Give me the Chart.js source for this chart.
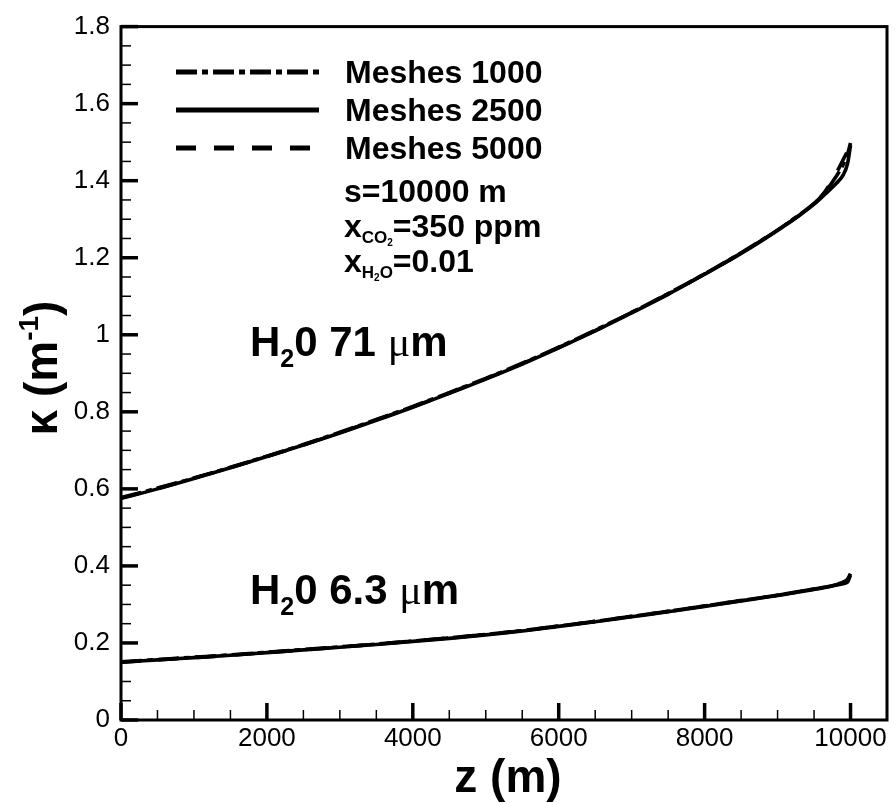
<!DOCTYPE html>
<html>
<head>
<meta charset="utf-8">
<script src="https://cdn.jsdelivr.net/npm/chart.js@4.4.1/dist/chart.umd.min.js"></script>
<style>
  body { margin: 0; background: #fff; }
  #wrap { width: 896px; height: 803px; position: relative; }
</style>
</head>
<body>
<div id="wrap"><canvas id="chart"></canvas></div>
<script>
/* ================= Data ================= */
const zValues = [0, 500, 1000, 1500, 2000, 2500, 3000, 3500, 4000, 4500, 5000, 5500, 6000, 6500,
  7000, 7500, 8000, 8500, 9000, 9250, 9500, 9650, 9800, 9900, 9960, 10000];

// H2O 71 um band
const kappa71Mesh1000 = [0.577, 0.602, 0.628, 0.656, 0.685, 0.715, 0.747, 0.780, 0.814, 0.850, 0.887, 0.926, 0.968, 1.012,
  1.058, 1.107, 1.158, 1.213, 1.272, 1.305, 1.341, 1.370, 1.410, 1.442, 1.470, 1.498];
const kappa71Mesh2500 = [0.575, 0.600, 0.627, 0.655, 0.684, 0.714, 0.745, 0.778, 0.812, 0.848, 0.885, 0.924, 0.966, 1.010,
  1.057, 1.105, 1.157, 1.211, 1.271, 1.303, 1.339, 1.365, 1.392, 1.415, 1.445, 1.492];
const kappa71Mesh5000 = [0.576, 0.601, 0.628, 0.655, 0.684, 0.714, 0.746, 0.779, 0.813, 0.849, 0.886, 0.925, 0.967, 1.011,
  1.058, 1.106, 1.158, 1.212, 1.272, 1.304, 1.340, 1.372, 1.418, 1.455, 1.478, 1.496];

// H2O 6.3 um band
const kappa63Mesh1000 = [0.151, 0.157, 0.163, 0.169, 0.176, 0.183, 0.190, 0.197, 0.205, 0.213, 0.222, 0.232, 0.244, 0.256,
  0.269, 0.282, 0.296, 0.310, 0.324, 0.332, 0.340, 0.345, 0.351, 0.357, 0.364, 0.379];
const kappa63Mesh2500 = [0.150, 0.156, 0.162, 0.168, 0.175, 0.182, 0.189, 0.196, 0.204, 0.212, 0.221, 0.231, 0.243, 0.255,
  0.268, 0.281, 0.295, 0.309, 0.323, 0.331, 0.339, 0.344, 0.350, 0.354, 0.358, 0.376];
const kappa63Mesh5000 = [0.150, 0.156, 0.162, 0.168, 0.175, 0.182, 0.189, 0.197, 0.205, 0.213, 0.222, 0.232, 0.244, 0.256,
  0.269, 0.282, 0.296, 0.310, 0.324, 0.332, 0.340, 0.345, 0.352, 0.358, 0.366, 0.380];

const meshLabels = ['Meshes 1000', 'Meshes 2500', 'Meshes 5000'];
const zTicks = [0, 2000, 4000, 6000, 8000, 10000];
const kappaTicks = [0, 0.2, 0.4, 0.6, 0.8, 1, 1.2, 1.4, 1.6, 1.8];

/* ================= Styles ================= */
const meshDash = [[21, 5, 6, 5], [], [20, 18]];
const FONT = '"Liberation Sans", Arial, sans-serif';

function pts(ys){ return zValues.map((z, i) => ({x: z, y: ys[i]})); }

function line(label, ys, mesh){
  return {
    label: label,
    data: pts(ys),
    borderColor: '#000',
    borderWidth: 3.6,
    borderDash: meshDash[mesh],
    pointRadius: 0,
    cubicInterpolationMode: 'monotone',
    fill: false
  };
}

/* ================= Helpers ================= */
// draw a row of text runs: [text, font, dy]
function runs(ctx, x, y, parts){
  parts.forEach(p => {
    ctx.font = p[1];
    ctx.fillText(p[0], x, y + (p[2] || 0));
    x += ctx.measureText(p[0]).width;
  });
  return x;
}

/* ================= Ticks + frame ================= */
const frameTicks = {
  id: 'frameTicks',
  afterDraw(chart){
    const {ctx, chartArea: a, scales: {x, y}} = chart;
    ctx.save();
    ctx.strokeStyle = '#000';
    ctx.lineCap = 'butt';

    // minor ticks
    ctx.lineWidth = 1.5;
    for (let v = 500; v < 10500; v += 500){
      if (v % 2000 === 0) continue;
      const px = x.getPixelForValue(v);
      ctx.beginPath(); ctx.moveTo(px, a.bottom); ctx.lineTo(px, a.bottom - 10); ctx.stroke();
    }
    for (let k = 1; k < 36; k++){
      if (k % 4 === 0) continue;
      const py = y.getPixelForValue(k * 0.05);
      ctx.beginPath(); ctx.moveTo(a.left, py); ctx.lineTo(a.left + 10, py); ctx.stroke();
    }

    // major ticks
    ctx.lineWidth = 3.5;
    zTicks.forEach(v => {
      const px = x.getPixelForValue(v);
      ctx.beginPath(); ctx.moveTo(px, a.bottom); ctx.lineTo(px, a.bottom - 17); ctx.stroke();
    });
    kappaTicks.forEach(v => {
      const py = y.getPixelForValue(v);
      ctx.beginPath(); ctx.moveTo(a.left, py); ctx.lineTo(a.left + 17, py); ctx.stroke();
    });

    // frame
    ctx.lineWidth = 3;
    ctx.strokeRect(a.left, a.top, a.right - a.left, a.bottom - a.top);
    ctx.restore();
  }
};

/* ================= Legend + labels ================= */
const labels = {
  id: 'labels',
  afterDraw(chart){
    const ctx = chart.ctx;
    ctx.save();
    ctx.fillStyle = '#000';
    ctx.strokeStyle = '#000';
    ctx.textBaseline = 'alphabetic';
    ctx.textAlign = 'left';

    // legend
    const rows = [72, 110, 148];
    meshLabels.forEach((t, i) => {
      ctx.lineWidth = 5;
      ctx.setLineDash(meshDash[i]);
      ctx.beginPath(); ctx.moveTo(176, rows[i]); ctx.lineTo(319, rows[i]); ctx.stroke();
      ctx.setLineDash([]);
      ctx.font = 'bold 32px ' + FONT;
      ctx.fillText(t, 345, rows[i] + 11);
    });

    // case notes
    const big = 'bold 32px ' + FONT, sub = 'bold 17px ' + FONT, sub2 = 'bold 10px ' + FONT;
    runs(ctx, 344, 202, [['s=10000 m', big]]);
    runs(ctx, 344, 237, [['x', big], ['CO', sub, 6], ['2', sub2, 9], ['=350 ppm', big]]);
    runs(ctx, 344, 272, [['x', big], ['H', sub, 6], ['2', sub2, 9], ['O', sub, 6], ['=0.01', big]]);

    // band labels
    const lab = 'bold 42px ' + FONT, labSub = 'bold 25px ' + FONT, mu = '42px "Liberation Serif", serif';
    runs(ctx, 250, 356, [['H', lab], ['2', labSub, 11], ['0 71 ', lab], ['\u03bc', mu], ['m', lab]]);
    runs(ctx, 250, 604, [['H', lab], ['2', labSub, 11], ['0 6.3 ', lab], ['\u03bc', mu], ['m', lab]]);

    // axis titles
    const ttl = 'bold 46px ' + FONT;
    ctx.font = ttl;
    const zt = 'z (m)';
    ctx.fillText(zt, 508 - ctx.measureText(zt).width / 2, 792);

    ctx.translate(57, 368);
    ctx.rotate(-Math.PI / 2);
    const sup = 'bold 28px ' + FONT;
    ctx.font = ttl;
    let w = ctx.measureText('\u03ba (m').width + ctx.measureText(')').width;
    ctx.font = sup;
    w += ctx.measureText('-1').width;
    runs(ctx, -w / 2, 0, [['\u03ba (m', ttl], ['-1', sup, -19], [')', ttl]]);
    ctx.restore();
  }
};

/* ================= Chart ================= */
const ctx = document.getElementById('chart');

new Chart(ctx, {
  type: 'line',
  data: {
    datasets: [
      line(meshLabels[0], kappa71Mesh1000, 0),
      line(meshLabels[1], kappa71Mesh2500, 1),
      line(meshLabels[2], kappa71Mesh5000, 2),
      line(meshLabels[0], kappa63Mesh1000, 0),
      line(meshLabels[1], kappa63Mesh2500, 1),
      line(meshLabels[2], kappa63Mesh5000, 2)
    ]
  },
  options: {
    responsive: true,
    maintainAspectRatio: false,
    animation: false,
    layout: { padding: { top: 20, right: 9, left: 0, bottom: 0 } },
    plugins: { legend: { display: false }, tooltip: { enabled: false } },
    scales: {
      x: {
        type: 'linear',
        min: 0, max: 10500,
        grid: { display: false, drawTicks: false },
        border: { display: false },
        afterBuildTicks: s => { s.ticks = zTicks.map(v => ({value: v})); },
        afterFit: s => { s.height = 83; },
        ticks: {
          color: '#000', padding: 3, maxRotation: 0,
          font: { family: FONT, size: 26 },
          callback: v => String(v)
        }
      },
      y: {
        min: 0, max: 1.8,
        grid: { display: false, drawTicks: false },
        border: { display: false },
        afterBuildTicks: s => { s.ticks = kappaTicks.map(v => ({value: v})); },
        afterFit: s => { s.width = 121; },
        ticks: {
          color: '#000', padding: 11,
          font: { family: FONT, size: 26 },
          callback: v => String(Number(v.toFixed(1)))
        }
      }
    }
  },
  plugins: [frameTicks, labels]
});
</script>
</body>
</html>
